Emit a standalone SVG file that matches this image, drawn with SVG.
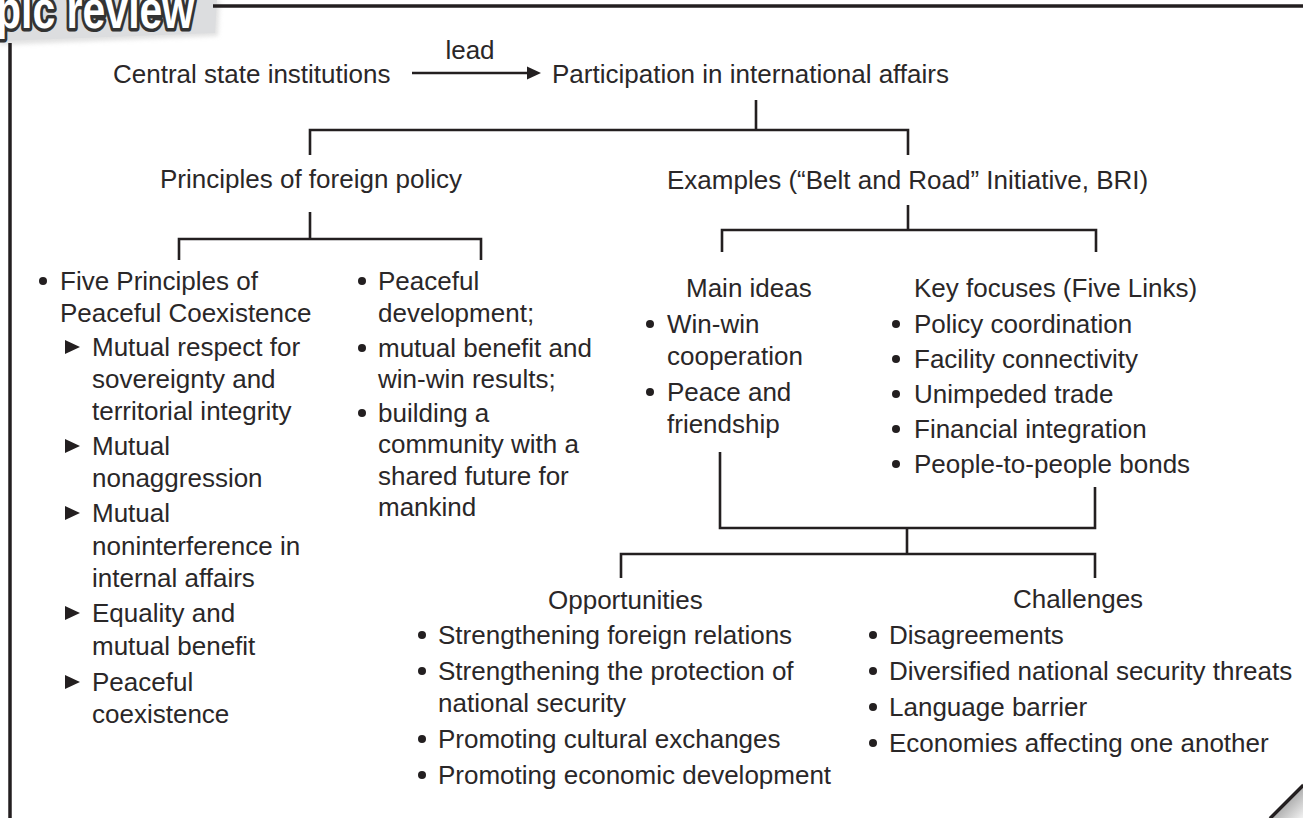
<svg xmlns="http://www.w3.org/2000/svg" width="1303" height="818" viewBox="0 0 1303 818">
<defs>
<style>
text{font-family:"Liberation Sans",Arial,sans-serif;font-size:26px;fill:#2a2728}
.ln{stroke:#231f20;stroke-width:2.6;fill:none}
.fr{stroke:#231f20;stroke-width:3.5;fill:none}
.bul{fill:#231f20}
.tri{fill:#231f20}
.tab{font-family:"Liberation Sans",Arial,sans-serif;font-weight:bold;font-size:41px;fill:#ffffff;stroke:#333333;stroke-width:5.5;paint-order:stroke;stroke-linejoin:round}
</style>
<linearGradient id="curl" x1="1" y1="1" x2="0.3" y2="0.3">
<stop offset="0" stop-color="#f2f2f2"/>
<stop offset="1" stop-color="#9a9a9a"/>
</linearGradient>
<filter id="sh" x="-10%" y="-10%" width="130%" height="150%">
<feGaussianBlur stdDeviation="2"/>
</filter>
</defs>
<rect width="1303" height="818" fill="#ffffff"/>

<g id="frame">
<polygon points="0,0 220,0 218,36 0,45" fill="#cfcfcf" filter="url(#sh)" opacity="0.6"/>
<polygon points="0,0 217,0 215,33 0,41" fill="#dcdddf"/>
<text class="tab" x="-4" y="28" transform="translate(-4,28) scale(1,1.3) translate(4,-28)">pic review</text>
<line class="fr" x1="213" y1="6" x2="1303" y2="6"/>
<line class="fr" x1="10" y1="43" x2="10" y2="818"/>
<polygon points="1273,818 1303,788 1303,818" fill="url(#curl)"/>
<line x1="1270" y1="818.5" x2="1303.5" y2="785" stroke="#231f20" stroke-width="3.5"/>
</g>

<g id="connectors">
<line class="ln" x1="412" y1="73" x2="530" y2="73" stroke-width="2.8"/>
<polygon points="527,66.5 541,73 527,79.5" fill="#231f20"/>
<text x="470" y="59" text-anchor="middle" font-size="25">lead</text>
<path class="ln" d="M756,100 V130 M310,155 V130 H908 V155"/>
<path class="ln" d="M310,212 V239 M179,260 V239 H481 V260"/>
<path class="ln" d="M908,205 V230 M722,252 V230 H1096 V252"/>
<path class="ln" d="M720,452 V528 H1095 V487 M907,528 V554 M621,578 V554 H1095 V578"/>
</g>

<g id="node-central">
<text x="113" y="83">Central state institutions</text>
</g>

<g id="node-participation">
<text x="552" y="83">Participation in international affairs</text>
</g>

<g id="node-principles">
<text x="160" y="188">Principles of foreign policy</text>
</g>

<g id="node-examples">
<text x="667" y="189">Examples (“Belt and Road” Initiative, BRI)</text>
</g>

<g id="node-five-principles">
<circle class="bul" cx="43" cy="281" r="4"/>
<text x="60" y="290">Five Principles of</text>
<text x="60" y="322">Peaceful Coexistence</text>
<polygon class="tri" points="65,340 80,347 65,354"/>
<text x="92" y="356">Mutual respect for</text>
<text x="92" y="388">sovereignty and</text>
<text x="92" y="420">territorial integrity</text>
<polygon class="tri" points="65,439 80,446 65,453"/>
<text x="92" y="455">Mutual</text>
<text x="92" y="487">nonaggression</text>
<polygon class="tri" points="65,506 80,513 65,520"/>
<text x="92" y="522">Mutual</text>
<text x="92" y="555">noninterference in</text>
<text x="92" y="587">internal affairs</text>
<polygon class="tri" points="65,606 80,613 65,620"/>
<text x="92" y="622">Equality and</text>
<text x="92" y="655">mutual benefit</text>
<polygon class="tri" points="65,675 80,682 65,689"/>
<text x="92" y="691">Peaceful</text>
<text x="92" y="723">coexistence</text>
</g>

<g id="node-peaceful-development">
<circle class="bul" cx="362" cy="281" r="4"/>
<text x="378" y="290">Peaceful</text>
<text x="378" y="322">development;</text>
<circle class="bul" cx="362" cy="348" r="4"/>
<text x="378" y="357">mutual benefit and</text>
<text x="378" y="388">win-win results;</text>
<circle class="bul" cx="362" cy="413" r="4"/>
<text x="378" y="422">building a</text>
<text x="378" y="453">community with a</text>
<text x="378" y="485">shared future for</text>
<text x="378" y="516">mankind</text>
</g>

<g id="node-main-ideas">
<text x="686" y="297">Main ideas</text>
<circle class="bul" cx="650" cy="324" r="4"/>
<text x="667" y="333">Win-win</text>
<text x="667" y="365">cooperation</text>
<circle class="bul" cx="650" cy="392" r="4"/>
<text x="667" y="401">Peace and</text>
<text x="667" y="433">friendship</text>
</g>

<g id="node-key-focuses">
<text x="914" y="297">Key focuses (Five Links)</text>
<circle class="bul" cx="896" cy="324" r="4"/>
<text x="914" y="333">Policy coordination</text>
<circle class="bul" cx="896" cy="359" r="4"/>
<text x="914" y="368">Facility connectivity</text>
<circle class="bul" cx="896" cy="394" r="4"/>
<text x="914" y="403">Unimpeded trade</text>
<circle class="bul" cx="896" cy="429" r="4"/>
<text x="914" y="438">Financial integration</text>
<circle class="bul" cx="896" cy="464" r="4"/>
<text x="914" y="473">People-to-people bonds</text>
</g>

<g id="node-opportunities">
<text x="548" y="609">Opportunities</text>
<circle class="bul" cx="422" cy="635" r="4"/>
<text x="438" y="644">Strengthening foreign relations</text>
<circle class="bul" cx="422" cy="671" r="4"/>
<text x="438" y="680">Strengthening the protection of</text>
<text x="438" y="712">national security</text>
<circle class="bul" cx="422" cy="739" r="4"/>
<text x="438" y="748">Promoting cultural exchanges</text>
<circle class="bul" cx="422" cy="775" r="4"/>
<text x="438" y="784">Promoting economic development</text>
</g>

<g id="node-challenges">
<text x="1013" y="608">Challenges</text>
<circle class="bul" cx="873" cy="635" r="4"/>
<text x="889" y="644">Disagreements</text>
<circle class="bul" cx="873" cy="671" r="4"/>
<text x="889" y="680">Diversified national security threats</text>
<circle class="bul" cx="873" cy="707" r="4"/>
<text x="889" y="716">Language barrier</text>
<circle class="bul" cx="873" cy="743" r="4"/>
<text x="889" y="752">Economies affecting one another</text>
</g>
</svg>
